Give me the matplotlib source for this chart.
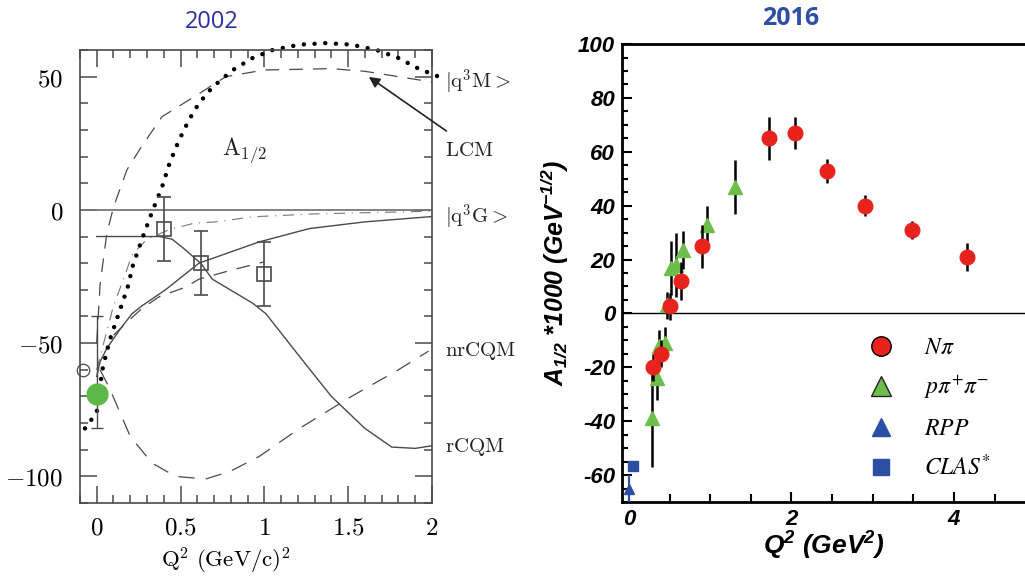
import matplotlib
matplotlib.use("Agg")
import matplotlib.pyplot as plt
from matplotlib.ticker import MultipleLocator
from matplotlib.lines import Line2D

plt.rcParams['mathtext.fontset'] = 'custom'
plt.rcParams['mathtext.it'] = 'Liberation Sans:bold:italic'
plt.rcParams['mathtext.rm'] = 'Liberation Sans:bold:italic'
plt.rcParams['mathtext.bf'] = 'Liberation Sans:bold:italic'

# ---------------- left panel (2002) : model curves ----------------
lcm_q = [-0.07, 0.0, 0.018, 0.037, 0.077, 0.12, 0.185, 0.215, 0.27, 0.335, 0.39, 0.435, 0.49,
         0.55, 0.61, 0.69, 0.81, 0.93, 1.05, 1.21, 1.37, 1.52, 1.67, 1.8, 1.92, 2.0, 2.04]
lcm_a = [-82, -76, -67, -59, -49, -41, -29, -21, -11, 0, 8.6, 17.6, 26,
         33.7, 40, 46, 52.4, 57, 60, 62, 62.6, 62, 60, 57, 53, 51, 50]

q3m_q = [0.0, 0.02, 0.06, 0.1, 0.18, 0.27, 0.39, 0.57, 0.77, 1.0, 1.4, 1.6, 1.8, 2.0]
q3m_a = [-50, -28, -9, 1, 15, 24, 35, 42, 50, 52.5, 53, 52, 50, 48]

q3g_q = [0.0, 0.05, 0.1, 0.16, 0.21, 0.3, 0.43, 0.58, 0.71, 0.93, 1.3, 2.0]
q3g_a = [-60, -48, -36, -26, -17, -11, -7.5, -5, -4.5, -2.6, -1.5, -0.5]

dash2_q = [0.1, 0.2, 0.27, 0.375, 0.53, 0.61, 0.81, 1.0]
dash2_a = [-47, -41, -37, -32.5, -29, -26, -22.5, -19.5]

rise_q = [0.0, 0.02, 0.06, 0.137, 0.21, 0.27, 0.41, 0.61, 0.97, 1.27, 1.6, 2.0]
rise_a = [-62.5, -57, -52, -45, -39, -36, -30, -20, -12, -7, -4.5, -2.5]

rcqm_q = [0.0, 0.2, 0.375, 0.45, 0.51, 0.62, 0.69, 0.81, 0.93, 1.01, 1.21, 1.4, 1.6, 1.76, 1.9, 2.0]
rcqm_a = [-10, -10, -10, -11, -14, -20, -26, -30.5, -35, -39, -55, -70, -82, -89, -89.5, -88.5]

nrcqm_q = [0.02, 0.077, 0.2, 0.33, 0.47, 0.65, 0.8, 0.97, 1.21, 1.52, 1.8, 1.98]
nrcqm_a = [-60, -67, -85, -95, -100, -101, -98, -92.5, -82, -70, -60, -53]

# data points (open squares)
sq_q = [0.4, 0.62, 1.0]
sq_a = [-7, -20, -24]
sq_err = [12, 12, 12]

# photon point
old_q0, old_a0, old_err0 = [0.0], [-61], [21]
green_q, green_a = [0.0], [-69]

left_xt = [0, 0.5, 1, 1.5, 2]
left_xl = [r'$0$', r'$0.5$', r'$1$', r'$1.5$', r'$2$']
left_yt = [-100, -50, 0, 50]
left_yl = [r'$-100$', r'$-50$', r'$0$', r'$50$']

model_names = [r'$|\mathrm{q}^3\mathrm{M}{>}$', r'$\mathrm{LCM}$', r'$|\mathrm{q}^3\mathrm{G}{>}$',
               r'$\mathrm{nrCQM}$', r'$\mathrm{rCQM}$']
model_label_y = [48, 22.5, -3, -53, -89]

# ---------------- right panel (2016) : data ----------------
npi_q = [0.3, 0.4, 0.5, 0.64, 0.9, 1.72, 2.05, 2.44, 2.9, 3.48, 4.16]
npi_a = [-20, -15, 2.6, 12, 25, 65, 67, 53, 40, 31, 21]
npi_e = [5, 5, 5, 7, 8, 8, 6, 4.5, 4, 3.3, 5.3]

ppp_q = [0.28, 0.34, 0.37, 0.44, 0.47, 0.52, 0.58, 0.66, 0.96, 1.3]
ppp_a = [-39, -24, -12, -11, 3, 17, 18, 23.5, 33, 47]
ppp_e = [18, 8, 6, 6, 5, 10, 12, 7, 7, 10]

rpp_q, rpp_a, rpp_e = [0.0], [-65], [5]
clas_q, clas_a = [0.05], [-56.5]

right_xt = [0, 2, 4]
right_yt = [-60, -40, -20, 0, 20, 40, 60, 80, 100]

red = '#E8231E'
green = '#6DBE4B'
blue = '#2C4FA3'
gray = '#4a4a4a'

fig = plt.figure(figsize=(10.25, 5.76), dpi=100)

# ======== left ========
ax1 = fig.add_axes([0.078, 0.1267, 0.3434, 0.7865])
ax1.axhline(0, color='#777', lw=1.3)
ax1.plot(q3m_q, q3m_a, color=gray, lw=0.9, dashes=(11, 8))
ax1.plot(q3g_q, q3g_a, color='#777', lw=0.8, dashes=(10, 6, 1, 6))
ax1.plot(dash2_q, dash2_a, color=gray, lw=0.9, dashes=(11, 8))
ax1.plot(nrcqm_q, nrcqm_a, color=gray, lw=0.9, dashes=(13, 9))
ax1.plot(rise_q, rise_a, color=gray, lw=1.0)
ax1.plot(rcqm_q, rcqm_a, color=gray, lw=1.0)
ax1.plot(lcm_q, lcm_a, color='black', lw=3.2, dashes=(0.01, 2.4), dash_capstyle='round', clip_on=False)
ax1.errorbar(sq_q, sq_a, yerr=sq_err, fmt='s', ms=10, mfc='none', mec=gray, mew=1.2,
             ecolor=gray, elinewidth=1.2, capsize=5, capthick=1.2)
ax1.errorbar(old_q0, old_a0, yerr=old_err0, fmt='none', ecolor=gray, elinewidth=1.0, capsize=4)
ax1.plot([-0.08], [-60], 'o', ms=9, mfc='none', mec=gray, mew=0.9, clip_on=False)
ax1.plot(green_q, green_a, 'o', ms=15, color='#5CB947', zorder=5)

ax1.set_xlim(-0.1, 2)
ax1.set_ylim(-110, 60)
ax1.set_xticks(left_xt)
ax1.set_xticklabels(left_xl, fontsize=18, math_fontfamily='cm')
ax1.set_yticks(left_yt)
ax1.set_yticklabels(left_yl, fontsize=18, math_fontfamily='cm')
ax1.xaxis.set_minor_locator(MultipleLocator(0.1))
ax1.yaxis.set_minor_locator(MultipleLocator(10))
ax1.tick_params(which='both', direction='in', top=True, right=True, color=gray, width=1.1)
ax1.tick_params(which='major', length=12)
ax1.tick_params(which='minor', length=6)
ax1.tick_params(axis='x', pad=9)
ax1.tick_params(axis='y', pad=12)
for s in ax1.spines.values():
    s.set_color(gray)
    s.set_linewidth(1.2)

for name, yv in zip(model_names, model_label_y):
    ax1.text(2.08, yv, name, fontsize=15, math_fontfamily='cm', va='center', ha='left', color='#222')
ax1.annotate('', xy=(1.61, 50.5), xytext=(2.1, 29), annotation_clip=False,
             arrowprops=dict(arrowstyle='-|>', color='#222', lw=1.2, mutation_scale=16))
ax1.text(0.75, 22.5, r'$\mathrm{A}_{1/2}$', fontsize=17, math_fontfamily='cm', va='center', color='#222')
ax1.set_xlabel(r'$\mathrm{Q}^2\ \mathrm{(GeV/c)}^2$', fontsize=16.5, math_fontfamily='cm')
ax1.xaxis.set_label_coords(0.415, -0.095)
fig.text(0.207, 0.962, '2002', fontsize=17, family='Open Sans', color='#2B30A0', ha='center', va='center')

# ======== right ========
ax2 = fig.add_axes([0.6068, 0.1285, 1.0 - 0.6068, 0.795])
ax2.axhline(0, color='black', lw=1.0)
ax2.errorbar(ppp_q, ppp_a, yerr=ppp_e, fmt='^', ms=10, color=green, ecolor='black', elinewidth=1.8, zorder=3)
ax2.errorbar(npi_q, npi_a, yerr=npi_e, fmt='o', ms=10.5, color=red, ecolor='black', elinewidth=1.8, zorder=4)
ax2.errorbar(rpp_q, rpp_a, yerr=rpp_e, fmt='^', ms=7, color=blue, ecolor=blue, elinewidth=1.5, zorder=4)
ax2.plot(clas_q, clas_a, 's', ms=7, color=blue, zorder=4)

ax2.set_xlim(-0.085, 4.874)
ax2.set_ylim(-70, 100)
ax2.set_xticks(right_xt)
ax2.set_xticklabels([str(v) for v in right_xt], fontsize=16, fontweight='bold', fontstyle='italic',
                    family='Liberation Sans')
ax2.set_yticks(right_yt)
ax2.set_yticklabels([str(v) for v in right_yt], fontsize=16, fontweight='bold', fontstyle='italic',
                    family='Liberation Sans')
ax2.xaxis.set_minor_locator(MultipleLocator(0.5))
ax2.yaxis.set_minor_locator(MultipleLocator(5))
ax2.tick_params(which='both', direction='in', top=False, right=False, width=1.5)
ax2.tick_params(which='major', length=7)
ax2.tick_params(which='minor', length=4)
ax2.tick_params(axis='x', which='minor', length=6)
ax2.tick_params(axis='x', pad=5)
ax2.tick_params(axis='y', pad=5)
ax2.spines['right'].set_visible(False)
for k in ['left', 'bottom', 'top']:
    ax2.spines[k].set_linewidth(2.0)

ax2.set_ylabel(r'$A_{1/2}$ *1000 (GeV$^{-1/2}$)', fontsize=18, fontweight='bold', fontstyle='italic',
               family='Liberation Sans', labelpad=5)
ax2.set_xlabel(r'Q$^{2}$ (GeV$^{2}$)', fontsize=19, fontweight='bold', fontstyle='italic',
               family='Liberation Sans', labelpad=0)
fig.text(0.771, 0.968, '2016', fontsize=18, family='Open Sans', fontweight='bold', color='#2F4EA6',
         ha='center', va='center')

handles = [Line2D([], [], ls='none', marker='o', ms=14, mfc=red, mec='black', mew=1.0),
           Line2D([], [], ls='none', marker='^', ms=14, mfc=green, mec='#222', mew=1.0),
           Line2D([], [], ls='none', marker='^', ms=13, mfc=blue, mec=blue),
           Line2D([], [], ls='none', marker='s', ms=12, mfc=blue, mec=blue)]
leg_labels = [r'$N\pi$', r'$p\pi^{+}\pi^{-}$', r'$RPP$', r'$CLAS^{*}$']
leg = fig.legend(handles, leg_labels, loc='upper left', bbox_to_anchor=(0.848, 0.418), frameon=False,
                 fontsize=17, handlelength=1.0, handletextpad=1.3, labelspacing=0.62,
                 borderpad=0, borderaxespad=0)
for t in leg.get_texts():
    t.set_math_fontfamily('stix')

fig.savefig('out.png', dpi=100)
